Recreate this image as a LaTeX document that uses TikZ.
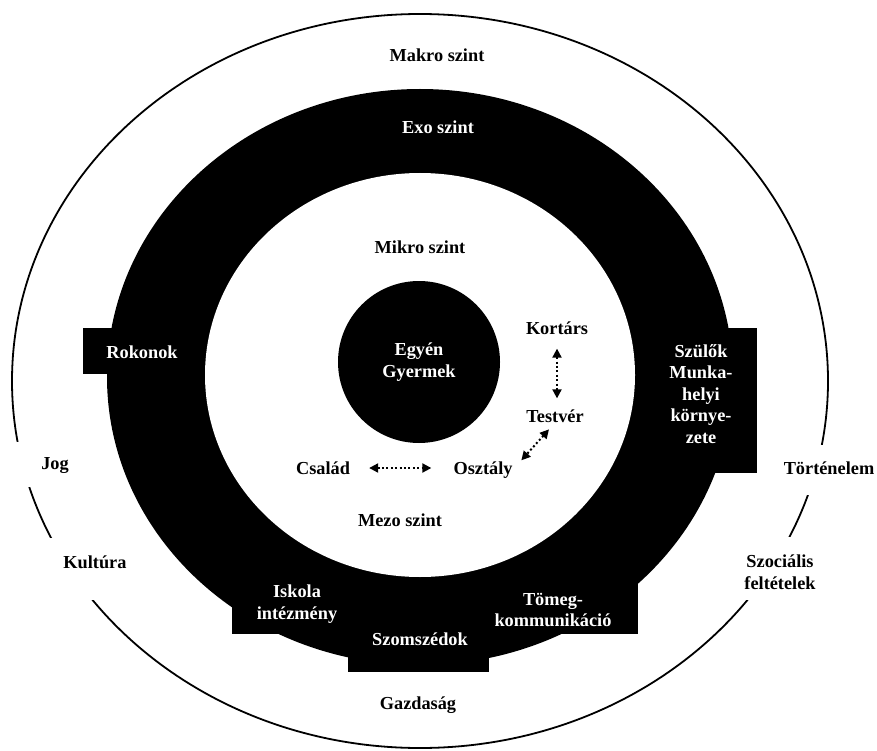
\documentclass[tikz,border=0pt]{standalone}
\usepackage{fontspec}
\setmainfont{Liberation Serif}
\usetikzlibrary{arrows.meta}
\begin{document}
\begin{tikzpicture}[x=1pt,y=-1pt,
  lbl/.style={font=\bfseries\fontsize{18.3}{21.5}\selectfont, inner sep=0pt, align=center},
  wlbl/.style={lbl,text=white},
  dar/.style={line width=2pt, dash pattern=on 2pt off 2.4pt,
    {Triangle[length=9pt,width=9pt]}-{Triangle[length=9pt,width=9pt]}},
]
\useasboundingbox (0,0) rectangle (877,751);
% outer level line (Makro)
\draw[line width=1.8pt] (420,381) ellipse[x radius=408pt, y radius=367pt];
% gaps in the outer line behind the labels
\fill[white] (2,442) rectangle (100,487);
\fill[white] (30,538) rectangle (150,600);
\fill[white] (765,445) rectangle (877,495);
\fill[white] (725,537) rectangle (850,600);
% black ring (Exo)
\fill[black] (420,377) ellipse[x radius=313pt, y radius=288pt];
% boxes on the ring
\fill[black] (83,328) rectangle (200,374);
\fill[black] (645,328) rectangle (757,473);
\fill[black] (232,570) rectangle (362,634);
\fill[black] (348,620) rectangle (489,672);
\fill[black] (470,570) rectangle (638,634);
% inner white (Mikro/Mezo)
\fill[white] (420,375) ellipse[x radius=215pt, y radius=202pt];
% centre
\node[circle, fill=black, minimum size=162pt, inner sep=0pt, wlbl] (egyen) at (419,362) {Egy\'en\\Gyermek};
% labels
\node[lbl] (makro) at (437,55) {Makro szint};
\node[wlbl] (exo) at (438,127) {Exo szint};
\node[lbl] (mikro) at (420,247) {Mikro szint};
\node[lbl] (mezo) at (400,520) {Mezo szint};
\node[lbl] (gazd) at (418,705) {Gazdas\'ag};
\node[lbl] (jog) at (55,466) {Jog};
\node[lbl] (kult) at (95,562) {Kult\'ura};
\node[lbl] (tort) at (829,468) {T\"ort\'enelem};
\node[lbl] (szoc) at (780,572) {Szoci\'alis\\felt\'etelek};
\node[wlbl] (rokon) at (142,352) {Rokonok};
\node[wlbl] (szulok) at (701,394) {Szülők\\Munka-\\helyi\\környe-\\zete};
\node[wlbl] (iskola) at (297,604) {Iskola\\int\'ezm\'eny};
\node[wlbl] (szomsz) at (420,639) {Szomsz\'edok};
\node[wlbl] (tomeg) at (553,610) {T\"omeg-\\kommunik\'aci\'o};
\node[lbl] (kortars) at (557,328) {Kort\'ars};
\node[lbl] (testver) at (555,416) {Testv\'er};
\node[lbl] (csalad) at (323,468) {Csal\'ad};
\node[lbl] (osztaly) at (483,470) {Oszt\'aly};
% arrows
\draw[dar, shorten <=19pt, shorten >=22pt] (csalad.east) -- (csalad.east -| osztaly.west);
\draw[dar, shorten <=14pt, shorten >=11pt] (kortars.south) -- (kortars.south |- testver.north);
\draw[dar, shorten <=9pt, shorten >=13pt] (testver.south) -- (osztaly.east);
\end{tikzpicture}
\end{document}
